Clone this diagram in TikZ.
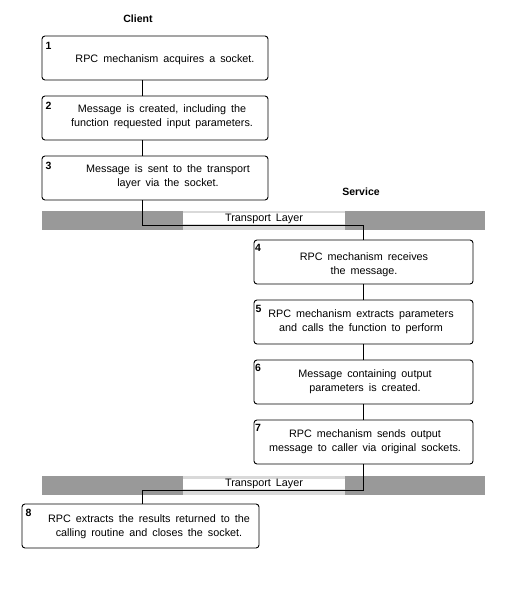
\documentclass[tikz,border=0pt]{standalone}
\usepackage{fontspec}
\setmainfont{Liberation Sans}
\begin{document}
\begin{tikzpicture}[x=1pt,y=-1pt,
  box/.style={draw, rounded corners=3pt, line width=0.9pt, inner sep=0pt},
  txt/.style={font={\fontsize{10.8}{14}\selectfont\spaceskip=5pt plus 1pt\relax}, align=center, inner sep=0pt},
  num/.style={font={\bfseries\fontsize{10.5}{12}\selectfont}, inner sep=0pt},
  head/.style={font={\bfseries\fontsize{10.5}{12}\selectfont}, inner sep=0pt},
  conn/.style={line width=0.9pt},
  dense/.style={fill=black!40, draw=none},
  light/.style={fill=black!15, draw=none}]
\useasboundingbox (0,0) rectangle (511,597);
% headings
\node[head] (client) at (138,19) {Client};
\node[head] (service) at (361,192) {Service};
% client boxes
\node[box, minimum width=226pt, minimum height=44pt] (b1) at (155,58) {};
\node[box, minimum width=226pt, minimum height=44pt] (b2) at (155,118) {};
\node[box, minimum width=226pt, minimum height=44pt] (b3) at (155,178) {};
% service boxes
\node[box, minimum width=219pt, minimum height=44pt] (b4) at (363.5,262) {};
\node[box, minimum width=219pt, minimum height=44pt] (b5) at (363.5,322) {};
\node[box, minimum width=219pt, minimum height=44pt] (b6) at (363.5,382) {};
\node[box, minimum width=219pt, minimum height=44pt] (b7) at (363.5,442) {};
% final box
\node[box, minimum width=237pt, minimum height=44pt] (b8) at (140.5,526) {};
% texts
\node[txt] (t1) at (165,60) {RPC mechanism acquires a socket.};
\node[txt] (t2) at (162,117) {Message is created, including the\\function requested input parameters.};
\node[txt] (t3) at (168,177) {Message is sent to the transport\\layer via the socket.};
\node[txt] (t4) at (364,264.5) {RPC mechanism receives\\the message.};
\node[txt] (t5) at (361,322) {RPC mechanism extracts parameters\\and calls the function to perform};
\node[txt] (t6) at (365,382) {Message containing output\\parameters is created.};
\node[txt] (t7) at (365,442) {RPC mechanism sends output\\message to caller via original sockets.};
\node[txt] (t8) at (149,527) {RPC extracts the results returned to the\\calling routine and closes the socket.};
% numbers
\node[num] (n1) at (48.5,46) {1};
\node[num] (n2) at (48.5,106) {2};
\node[num] (n3) at (48.5,166) {3};
\node[num] (n4) at (258,248) {4};
\node[num] (n5) at (258.5,309) {5};
\node[num] (n6) at (258,368) {6};
\node[num] (n7) at (258,428) {7};
\node[num] (n8) at (28.5,513) {8};
% transport bands
\fill[dense] (42,211) rectangle (485,230);
\fill[light] (183,211) rectangle (345,230);
\node[fill=white, minimum width=162pt, minimum height=11pt, inner sep=0pt] (tl1box) at (264,218.5) {};
\node[txt] (tl1) at (264,218.5) {Transport Layer};
\fill[dense] (42,476) rectangle (485,495);
\fill[light] (183,476) rectangle (345,495);
\node[fill=white, minimum width=162pt, minimum height=10pt, inner sep=0pt] (tl2box) at (264,484) {};
\node[txt] (tl2) at (264,484) {Transport Layer};
% junctions
\coordinate (ja) at (142,225);
\coordinate (jb) at (363.5,225);
\coordinate (jc) at (363.5,490);
\coordinate (jd) at (142,490);
% connectors
\draw[conn] (b1.south -| ja) -- (b2.north -| ja);
\draw[conn] (b2.south -| ja) -- (b3.north -| ja);
\draw[conn] (b3.south -| ja) -- (ja) -- (jb) -- (b4.north);
\draw[conn] (b4.south) -- (b5.north);
\draw[conn] (b5.south) -- (b6.north);
\draw[conn] (b6.south) -- (b7.north);
\draw[conn] (b7.south) -- (jc) -- (jd) -- (b8.north -| jd);
\end{tikzpicture}
\end{document}
